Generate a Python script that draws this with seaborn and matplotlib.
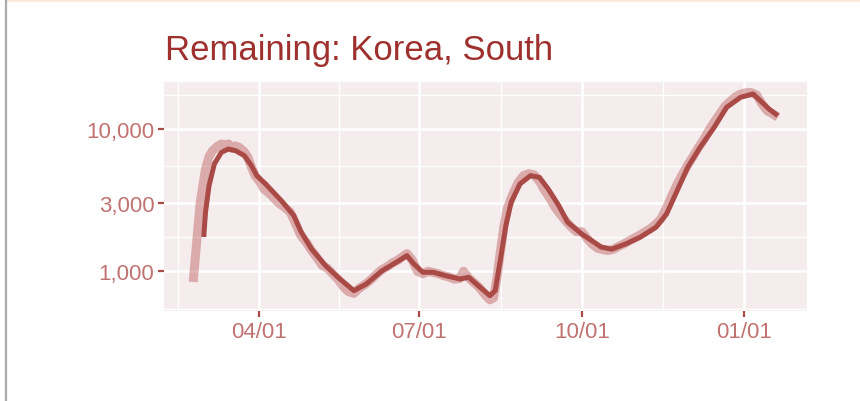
import numpy as np
import pandas as pd
import matplotlib
matplotlib.use("Agg")
import matplotlib.pyplot as plt
import matplotlib.dates as mdates
import matplotlib.ticker as mticker
from matplotlib.patches import Rectangle
from matplotlib.lines import Line2D
import seaborn as sns

# raw remaining (active) cases
raw_dates = ["2020-02-24", "2020-02-26", "2020-02-28", "2020-03-02", "2020-03-04", "2020-03-06",
             "2020-03-09", "2020-03-11", "2020-03-13", "2020-03-15", "2020-03-17", "2020-03-19",
             "2020-03-21", "2020-03-24", "2020-03-26", "2020-03-28", "2020-03-30", "2020-04-02",
             "2020-04-04", "2020-04-08", "2020-04-12", "2020-04-16", "2020-04-19", "2020-04-22",
             "2020-04-25", "2020-04-28", "2020-05-01", "2020-05-04", "2020-05-07", "2020-05-10",
             "2020-05-13", "2020-05-16", "2020-05-19", "2020-05-22", "2020-05-25", "2020-05-28",
             "2020-06-01", "2020-06-04", "2020-06-07", "2020-06-10", "2020-06-13", "2020-06-16",
             "2020-06-19", "2020-06-22", "2020-06-24", "2020-06-27", "2020-06-30", "2020-07-03",
             "2020-07-06", "2020-07-09", "2020-07-12", "2020-07-15", "2020-07-18", "2020-07-21",
             "2020-07-24", "2020-07-26", "2020-07-29", "2020-08-01", "2020-08-04", "2020-08-07",
             "2020-08-10", "2020-08-12", "2020-08-14", "2020-08-16", "2020-08-18", "2020-08-20",
             "2020-08-23", "2020-08-26", "2020-08-29", "2020-09-01", "2020-09-04", "2020-09-07",
             "2020-09-10", "2020-09-13", "2020-09-16", "2020-09-19", "2020-09-22", "2020-09-25",
             "2020-09-28", "2020-10-01", "2020-10-04", "2020-10-07", "2020-10-10", "2020-10-13",
             "2020-10-16", "2020-10-19", "2020-10-22", "2020-10-25", "2020-10-28", "2020-10-31",
             "2020-11-03", "2020-11-06", "2020-11-09", "2020-11-12", "2020-11-15", "2020-11-18",
             "2020-11-21", "2020-11-24", "2020-11-27", "2020-11-30", "2020-12-03", "2020-12-06",
             "2020-12-09", "2020-12-12", "2020-12-15", "2020-12-18", "2020-12-21", "2020-12-24",
             "2020-12-27", "2020-12-30", "2021-01-02", "2021-01-05", "2021-01-08", "2021-01-11",
             "2021-01-14", "2021-01-17", "2021-01-20"]
raw_values = [841, 1600, 3050, 5240, 6400, 7040,
              7600, 7850, 7700, 7850, 7300, 7600,
              7430, 6900, 6320, 5400, 4700, 4200,
              3790, 3450, 3050, 2800, 2600, 2150,
              1780, 1600, 1400, 1250, 1100, 1050,
              960, 880, 780, 720, 700, 760,
              820, 880, 960, 1030, 1080, 1150,
              1200, 1280, 1330, 1200, 1000, 960,
              1000, 980, 960, 930, 910, 880,
              890, 1000, 900, 830, 770, 690,
              630, 650, 900, 1400, 2100, 2800,
              3500, 4200, 4700, 4850, 4750, 4300,
              3700, 3250, 2800, 2500, 2250, 2050,
              1900, 1900, 1700, 1550, 1450, 1420,
              1400, 1430, 1500, 1560, 1640, 1720,
              1800, 1900, 2000, 2150, 2350, 2800,
              3400, 4100, 4800, 5600, 6400, 7400,
              8400, 9800, 11200, 12700, 14400, 15600,
              16800, 17600, 18000, 18000, 17300, 15000,
              13400, 12800, 12100]

# smoothed trend
smooth_dates = ["2020-03-01", "2020-03-02", "2020-03-04", "2020-03-07", "2020-03-11", "2020-03-15",
                "2020-03-19", "2020-03-24", "2020-03-28", "2020-03-31", "2020-04-05", "2020-04-14",
                "2020-04-21", "2020-04-25", "2020-05-01", "2020-05-09", "2020-05-16", "2020-05-25",
                "2020-06-01", "2020-06-10", "2020-06-18", "2020-06-24", "2020-06-28", "2020-07-03",
                "2020-07-09", "2020-07-16", "2020-07-24", "2020-07-29", "2020-08-04", "2020-08-10",
                "2020-08-13", "2020-08-16", "2020-08-19", "2020-08-22", "2020-08-27", "2020-09-02",
                "2020-09-07", "2020-09-12", "2020-09-18", "2020-09-23", "2020-10-01", "2020-10-08",
                "2020-10-12", "2020-10-18", "2020-10-26", "2020-11-03", "2020-11-12", "2020-11-18",
                "2020-11-24", "2020-11-30", "2020-12-07", "2020-12-15", "2020-12-22", "2020-12-30",
                "2021-01-06", "2021-01-10", "2021-01-15", "2021-01-20"]
smooth_values = [1742, 2600, 4000, 5680, 6860, 7230,
                 7040, 6490, 5520, 4700, 4110, 3130,
                 2460, 1900, 1435, 1094, 907, 731,
                 814, 1010, 1156, 1288, 1125, 984,
                 984, 931, 883, 907, 780, 674,
                 731, 1220, 2092, 3054, 4108, 4700,
                 4571, 3786, 2891, 2210, 1828, 1599,
                 1480, 1430, 1560, 1734, 2038, 2527,
                 3685, 5383, 7433, 10280, 14200, 16710,
                 17620, 15810, 13810, 12400]

y_breaks = [1000, 3000, 10000]
y_labels = ["1,000", "3,000", "10,000"]
x_breaks = ["2020-04-01", "2020-07-01", "2020-10-01", "2021-01-01"]
x_labels = ["04/01", "07/01", "10/01", "01/01"]

raw = pd.DataFrame({"date": pd.to_datetime(raw_dates), "value": raw_values})
smooth = pd.DataFrame({"date": pd.to_datetime(smooth_dates), "value": smooth_values})

sns.set_theme(style="white")
plt.rcParams["font.family"] = ["Liberation Sans", "DejaVu Sans"]

panel_bg = "#f5eded"
title_col = "#9e302e"
tick_col = "#c07371"

fig = plt.figure(figsize=(8.6, 4.02), dpi=100)
ax = fig.add_axes([164 / 860, 1 - 312 / 402, (807 - 164) / 860, (312 - 83) / 402])
ax.set_facecolor(panel_bg)

sns.lineplot(data=raw, x="date", y="value", ax=ax, color="#b5504f", alpha=0.42,
             linewidth=6.5, solid_capstyle="butt", solid_joinstyle="round")
sns.lineplot(data=smooth, x="date", y="value", ax=ax, color="#a94a46",
             linewidth=3.6, solid_capstyle="butt", solid_joinstyle="round")

ax.set_yscale("log")
ax.set_ylim(526, 21380)
ax.set_xlim(pd.Timestamp("2020-02-07 12:00"), pd.Timestamp("2021-02-05 12:00"))

ax.yaxis.set_major_locator(mticker.FixedLocator(y_breaks))
ax.yaxis.set_major_formatter(mticker.FixedFormatter(y_labels))
y_minor = [547.7, 1732, 5477, 17320]
ax.yaxis.set_minor_locator(mticker.FixedLocator(y_minor))
ax.yaxis.set_minor_formatter(mticker.NullFormatter())

xb = [mdates.date2num(pd.Timestamp(d)) for d in x_breaks]
ax.xaxis.set_major_locator(mticker.FixedLocator(xb))
ax.xaxis.set_major_formatter(mticker.FixedFormatter(x_labels))
x_minor = [mdates.date2num(pd.Timestamp("2020-01-01")) / 2 + xb[0] / 2] + \
          [(a + b) / 2 for a, b in zip(xb[:-1], xb[1:])]
ax.xaxis.set_minor_locator(mticker.FixedLocator(x_minor))

ax.grid(which="major", color="white", linewidth=1.8)
ax.grid(which="minor", color="white", linewidth=0.9)
ax.set_axisbelow(True)
for s in ax.spines.values():
    s.set_visible(False)

ax.tick_params(axis="both", which="major", length=4.5, width=1.6, color="#a94a46",
               labelcolor=tick_col, labelsize=16, pad=2.5, direction="out")
ax.tick_params(axis="both", which="minor", length=0)
ax.tick_params(axis="y", left=True)
ax.tick_params(axis="x", bottom=True)
ax.set_xlabel("")
ax.set_ylabel("")

fig.text(165 / 860, 1 - 60 / 402, "Remaining: Korea, South", color=title_col,
         fontsize=25, ha="left", va="baseline")

# page decorations: left border and top band
fig.add_artist(Rectangle((7 / 860, 1 - 3 / 402), 1, 3 / 402, transform=fig.transFigure,
                         facecolor="#fde9da", edgecolor="none"))
fig.add_artist(Line2D([6 / 860, 6 / 860], [0, 1], transform=fig.transFigure,
                      color="#aaaaaa", linewidth=1.6))

fig.savefig("out.png", dpi=100, facecolor="white")
